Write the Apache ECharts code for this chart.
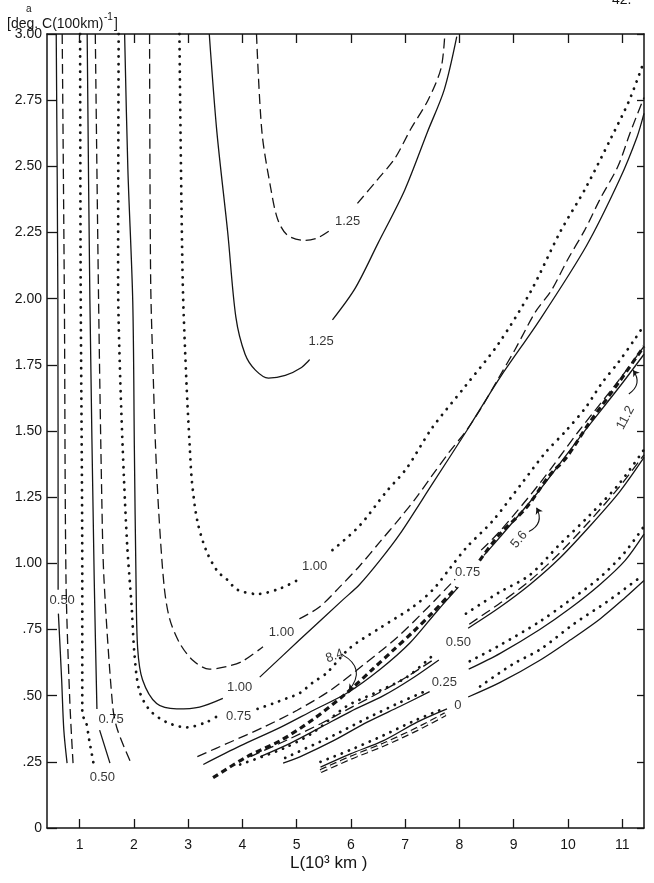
<!DOCTYPE html>
<html>
<head>
<meta charset="utf-8">
<script src="https://cdn.jsdelivr.net/npm/echarts@6/dist/echarts.min.js"></script>
<style>
  html, body { margin: 0; padding: 0; background: #fff; }
  #chart { width: 654px; height: 883px; }
</style>
</head>
<body>
<div id="chart"></div>
<script>
var FONT = '"Liberation Sans", Arial, sans-serif';
var INK = '#151515';

// axis ticks
var xTicks = [1, 2, 3, 4, 5, 6, 7, 8, 9, 10, 11];
var yTicks = [0, 0.25, 0.5, 0.75, 1, 1.25, 1.5, 1.75, 2, 2.25, 2.5, 2.75, 3];
var yTickLabels = ['0', '.25', '.50', '.75', '1.00', '1.25', '1.50', '1.75', '2.00', '2.25', '2.50', '2.75', '3.00'];

// contours, [L, value]; null = break (label sits there)
// left-hand branches
var solid050 = [[0.57, 3.0], [0.60, 2.0], [0.605, 0.90], null, [0.61, 0.81], [0.67, 0.56], [0.71, 0.37], [0.77, 0.245]];
var dashed050 = [[0.68, 3.0], [0.72, 2.0], [0.75, 0.94], [0.82, 0.48], [0.88, 0.245]];
var dotted050 = [[1.01, 3.0], [1.02, 2.07], [1.05, 0.94], [1.05, 0.43], [1.12, 0.40], [1.18, 0.33], [1.27, 0.23]];
var solid075 = [[1.14, 3.0], [1.19, 2.0], [1.27, 0.94], [1.32, 0.45], null, [1.37, 0.37], [1.56, 0.245]];
var dashed075 = [[1.29, 3.0], [1.35, 2.0], [1.41, 1.24], [1.45, 0.94], [1.61, 0.46], [1.70, 0.37], [1.96, 0.24]];

// U shaped ones
var dotted075 = [[1.72, 3.0], [1.71, 2.07], [1.75, 1.69], [1.82, 1.31], [1.88, 1.06], [1.96, 0.835], [2.01, 0.66],
  [2.10, 0.52], [2.29, 0.446], [2.60, 0.40], [2.97, 0.38], [3.34, 0.40], [3.52, 0.42], null,
  [4.28, 0.45], [4.56, 0.47], [4.82, 0.49], [5.06, 0.51], [5.30, 0.55], [5.55, 0.585], [5.98, 0.68],
  [6.53, 0.755], [7.14, 0.835], [7.51, 0.90], [7.82, 0.98], [8.13, 1.06], [8.61, 1.16], [9.14, 1.30],
  [9.59, 1.42], [9.96, 1.50], [10.33, 1.59], [10.62, 1.68], [10.93, 1.76], [11.24, 1.85], [11.4, 1.90]];
var solid100 = [[1.83, 3.0], [1.89, 2.49], [1.98, 1.99], [2.01, 1.43], [2.04, 0.94], [2.07, 0.68], [2.16, 0.56],
  [2.42, 0.47], [2.79, 0.45], [3.21, 0.457], [3.64, 0.49], null,
  [4.32, 0.57], [5.05, 0.71], [5.84, 0.86], [6.16, 0.92], [6.53, 1.01], [6.90, 1.11], [7.50, 1.30],
  [8.13, 1.50], [8.74, 1.70], [9.48, 1.92], [10.34, 2.20], [10.95, 2.45], [11.27, 2.61], [11.4, 2.70]];
var dashed100 = [[2.29, 3.0], [2.31, 2.07], [2.36, 1.69], [2.40, 1.44], [2.46, 1.19], [2.56, 0.91], [2.66, 0.79],
  [2.84, 0.70], [3.08, 0.635], [3.39, 0.60], [3.71, 0.61], [4.00, 0.63], [4.38, 0.685], null,
  [5.05, 0.79], [5.42, 0.835], [5.79, 0.91], [6.16, 0.99], [6.53, 1.08], [6.90, 1.17], [7.21, 1.25],
  [7.49, 1.33], [7.81, 1.42], [8.12, 1.50], [8.41, 1.59], [8.72, 1.70], [9.03, 1.81], [9.40, 1.95],
  [9.69, 2.03], [10.00, 2.15], [10.31, 2.26], [10.60, 2.38], [10.92, 2.50], [11.15, 2.63], [11.4, 2.76]];
var dotted100 = [[2.84, 3.0], [2.90, 2.07], [2.97, 1.68], [3.03, 1.44], [3.07, 1.31], [3.17, 1.16], [3.33, 1.05],
  [3.54, 0.97], [3.71, 0.94], [3.91, 0.90], [4.28, 0.884], [4.72, 0.907], [5.09, 0.945], null,
  [5.66, 1.05], [6.15, 1.14], [6.65, 1.27], [7.03, 1.36], [7.49, 1.51], [8.11, 1.67], [8.72, 1.83],
  [9.32, 2.03], [9.85, 2.25], [10.33, 2.42], [10.80, 2.61], [11.13, 2.75], [11.37, 2.88]];
var solid125 = [[3.39, 3.0], [3.53, 2.63], [3.73, 2.25], [3.88, 1.93], [4.05, 1.79], [4.24, 1.73], [4.48, 1.70],
  [4.79, 1.71], [5.09, 1.74], [5.24, 1.77], null,
  [5.66, 1.92], [6.08, 2.04], [6.50, 2.21], [6.99, 2.41], [7.41, 2.63], [7.72, 2.79], [7.95, 2.99]];
var dashed125 = [[4.26, 3.0], [4.36, 2.63], [4.52, 2.42], [4.65, 2.30], [4.83, 2.24], [5.15, 2.22], [5.39, 2.23],
  [5.63, 2.26], null,
  [6.12, 2.36], [6.49, 2.45], [6.81, 2.53], [7.10, 2.64], [7.42, 2.75], [7.66, 2.87], [7.73, 3.0]];

// right-hand branches, lower band
var solid075r = [[3.28, 0.24], [3.96, 0.31], [4.70, 0.38], [5.31, 0.445], [5.93, 0.51], [6.54, 0.60], [7.09, 0.70],
  [7.59, 0.82], [7.98, 0.91], null, [8.45, 1.03], [8.75, 1.10], [9.49, 1.28], [10.23, 1.48], [10.96, 1.67], [11.4, 1.79]];
var dashed075r = [[3.17, 0.27], [3.78, 0.325], [4.38, 0.38], [5.01, 0.445], [5.62, 0.52], [6.22, 0.615], [6.85, 0.72],
  [7.45, 0.84], [7.92, 0.94], null, [8.40, 1.05], [8.74, 1.12], [9.47, 1.30], [10.20, 1.50], [10.93, 1.69], [11.4, 1.82]];
var thick84 = [[3.46, 0.19], [4.09, 0.27], [4.70, 0.33], [5.30, 0.41], [5.92, 0.51], [6.40, 0.60], [6.77, 0.67],
  [7.14, 0.74], [7.51, 0.815], [7.95, 0.91], null, [8.37, 1.01], [8.74, 1.11], [9.23, 1.21], [9.65, 1.33],
  [9.97, 1.40], [10.39, 1.53], [10.94, 1.685], [11.4, 1.82]];
var solid050r = [[4.33, 0.27], [4.88, 0.32], [5.44, 0.38], [5.99, 0.44], [6.60, 0.50], [7.09, 0.56], [7.62, 0.635], null,
  [8.16, 0.755], [8.75, 0.835], [9.30, 0.92], [9.85, 1.02], [10.40, 1.14], [10.95, 1.27], [11.4, 1.40]];
var dashed050r = [[4.15, 0.27], [4.85, 0.335], [5.45, 0.395], [6.0, 0.455], [6.6, 0.52], [7.1, 0.58], [7.55, 0.64], null,
  [8.18, 0.77], [8.75, 0.85], [9.3, 0.935], [9.85, 1.04], [10.4, 1.16], [10.95, 1.29], [11.4, 1.41]];
var dotted050r = [[3.96, 0.24], [4.75, 0.30], [5.30, 0.36], [5.92, 0.46], [6.44, 0.51], [7.03, 0.57], [7.55, 0.66], null,
  [8.12, 0.81], [8.73, 0.89], [9.29, 0.955], [9.84, 1.07], [10.39, 1.18], [10.94, 1.30], [11.4, 1.43]];
var solid025 = [[4.75, 0.245], [5.07, 0.27], [5.68, 0.33], [6.30, 0.40], [6.91, 0.46], [7.45, 0.515], null,
  [8.17, 0.60], [8.75, 0.66], [9.48, 0.75], [10.04, 0.83], [10.59, 0.92], [11.05, 1.01], [11.4, 1.11]];
var dotted025 = [[4.79, 0.265], [5.68, 0.35], [6.30, 0.415], [6.91, 0.475], [7.35, 0.515], null,
  [8.19, 0.63], [8.74, 0.69], [9.48, 0.78], [10.03, 0.86], [10.58, 0.945], [11.04, 1.04], [11.4, 1.14]];
var solid000 = [[5.44, 0.23], [5.99, 0.28], [6.60, 0.33], [7.22, 0.40], [7.77, 0.45], null,
  [8.16, 0.495], [8.75, 0.55], [9.49, 0.635], [10.04, 0.71], [10.59, 0.79], [11.05, 0.87], [11.4, 0.935]];
var dotted000 = [[5.44, 0.25], [5.99, 0.295], [6.60, 0.35], [7.22, 0.41], [7.64, 0.445], null,
  [8.38, 0.535], [8.99, 0.62], [9.49, 0.675], [10.10, 0.77], [10.72, 0.855], [11.38, 0.955]];
var hollow000 = [[5.44, 0.215], [5.99, 0.265], [6.60, 0.315], [7.23, 0.375], [7.74, 0.43]];

// curve labels: text, L, value, rotation
var curveLabels = [
  ['1.25', 5.94, 2.29, 0], ['1.25', 5.45, 1.84, 0],
  ['1.00', 5.33, 0.99, 0], ['1.00', 4.72, 0.74, 0], ['1.00', 3.95, 0.53, 0],
  ['0.75', 3.93, 0.42, 0], ['0.75', 8.15, 0.965, 0], ['0.50', 7.98, 0.70, 0],
  ['0.25', 7.72, 0.55, 0], ['0', 7.97, 0.465, 0],
  ['0.50', 0.68, 0.86, 0], ['0.75', 1.58, 0.41, 0], ['0.50', 1.42, 0.19, 0],
  ['8.4', 5.7, 0.65, 20], ['5.6', 9.1, 1.09, 50], ['11.2', 11.06, 1.55, 62]
];
// little arrows from 8.4, 5.6, 11.2
var arrows = [
  [[5.84, 0.655], [5.96, 0.52]],
  [[9.28, 1.12], [9.42, 1.21]],
  [[11.12, 1.64], [11.2, 1.73]]
];
var arrowBend = [0.6, -0.5, -0.5];

var styles = {
  solid: { color: INK, width: 1.3, type: 'solid' },
  dashed: { color: INK, width: 1.3, type: [10, 5] },
  dotted: { color: INK, width: 2.8, type: [0.1, 7.5], cap: 'round' },
  thick: { color: INK, width: 3.2, type: [6, 4] },
  hollowOut: { color: INK, width: 4.2, type: [7, 4] },
  hollowIn: { color: '#fff', width: 1.8, type: [7, 4] }
};

var series = [];
function addCurve(arr, st) {
  var parts = [[]];
  arr.forEach(function(p) {
    if (p === null) parts.push([]);
    else parts[parts.length - 1].push(p);
  });
  parts.forEach(function(d) {
    series.push({
      type: 'line', data: d, showSymbol: false, symbol: 'none', smooth: 0.3,
      lineStyle: styles[st], silent: true, animation: false
    });
  });
}

addCurve(solid050, 'solid'); addCurve(dashed050, 'dashed'); addCurve(dotted050, 'dotted');
addCurve(solid075, 'solid'); addCurve(dashed075, 'dashed'); addCurve(dotted075, 'dotted');
addCurve(solid100, 'solid'); addCurve(dashed100, 'dashed'); addCurve(dotted100, 'dotted');
addCurve(solid125, 'solid'); addCurve(dashed125, 'dashed');
addCurve(solid075r, 'solid'); addCurve(dashed075r, 'dashed'); addCurve(thick84, 'thick');
addCurve(solid050r, 'solid'); addCurve(dashed050r, 'dashed'); addCurve(dotted050r, 'dotted');
addCurve(solid025, 'solid'); addCurve(dotted025, 'dotted');
addCurve(solid000, 'solid'); addCurve(dotted000, 'dotted');
addCurve(hollow000, 'hollowOut'); addCurve(hollow000, 'hollowIn');

series.push({
  type: 'scatter', symbol: 'circle', symbolSize: 1, silent: true, animation: false, z: 5,
  itemStyle: { color: 'rgba(0,0,0,0)' },
  data: curveLabels.map(function(l) {
    return { name: l[0], value: [l[1], l[2]], label: { rotate: l[3] } };
  }),
  label: { show: true, position: 'inside', formatter: '{b}', color: '#000', fontSize: 13, fontFamily: FONT }
});

series.push({
  type: 'lines', coordinateSystem: 'cartesian2d', silent: true, animation: false,
  symbol: ['none', 'arrow'], symbolSize: 6,
  lineStyle: { color: INK, width: 1.1, opacity: 1 },
  data: arrows.map(function(a, i) { return { coords: a, lineStyle: { curveness: arrowBend[i] } }; })
});

var myChart = echarts.init(document.getElementById('chart'), null, { renderer: 'canvas' });
var axisLine = { show: true, onZero: false, lineStyle: { color: INK, width: 1.5 } };
var option = {
  backgroundColor: '#fff',
  animation: false,
  grid: { left: 47, right: 10, top: 34, bottom: 55 },
  xAxis: [{
    type: 'value', min: 0.4, max: 11.4, position: 'bottom',
    axisLine: axisLine,
    axisTick: { show: true, inside: true, length: 9, customValues: xTicks, lineStyle: { color: INK, width: 1.3 } },
    axisLabel: { show: true, customValues: xTicks, margin: 10, color: INK, fontSize: 14, fontFamily: FONT },
    splitLine: { show: false }
  }, {
    type: 'value', min: 0.4, max: 11.4, position: 'top',
    axisLine: axisLine,
    axisTick: { show: true, inside: true, length: 9, customValues: xTicks, lineStyle: { color: INK, width: 1.3 } },
    axisLabel: { show: false },
    splitLine: { show: false }
  }],
  yAxis: [{
    type: 'value', min: 0, max: 3, interval: 0.25, position: 'left',
    axisLine: axisLine,
    axisTick: { show: true, inside: true, length: 10, lineStyle: { color: INK, width: 1.3 } },
    axisLabel: {
      margin: 5, color: INK, fontSize: 14, fontFamily: FONT,
      formatter: function(v) { return yTickLabels[yTicks.indexOf(v)]; }
    },
    splitLine: { show: false }
  }, {
    type: 'value', min: 0, max: 3, interval: 0.25, position: 'right',
    axisLine: axisLine,
    axisTick: { show: true, inside: true, length: 7, lineStyle: { color: INK, width: 1.3 } },
    axisLabel: { show: false },
    splitLine: { show: false }
  }],
  graphic: [
    { type: 'text', left: 7, top: 17, style: { text: '[deg. C(100km)', fill: INK, font: '14px ' + FONT } },
    { type: 'text', left: 104, top: 12, style: { text: '-1', fill: INK, font: '10px ' + FONT } },
    { type: 'text', left: 114, top: 17, style: { text: ']', fill: INK, font: '14px ' + FONT } },
    { type: 'text', left: 26, top: 4, style: { text: 'a', fill: INK, font: '10px ' + FONT } },
    { type: 'text', left: 612, top: -7, style: { text: '42.', fill: INK, font: '14px ' + FONT } },
    { type: 'text', left: 290, top: 855, style: { text: 'L(10³ km )', fill: INK, font: '17px ' + FONT } }
  ],
  series: series
};
myChart.setOption(option);
</script>
</body>
</html>
